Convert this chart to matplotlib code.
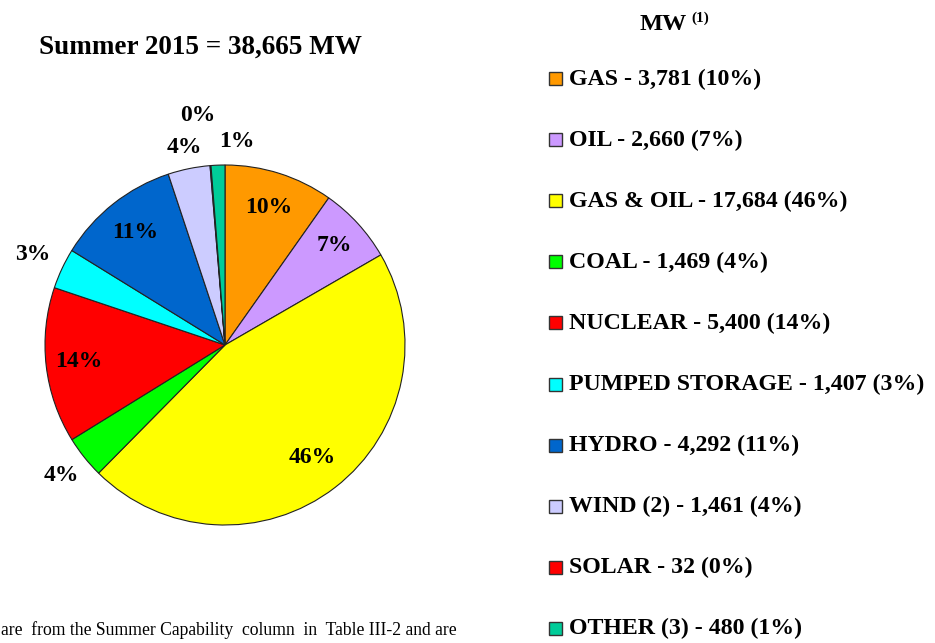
import numpy as np
import matplotlib.pyplot as plt
from matplotlib.patches import Rectangle

plt.rcParams['font.family'] = ['Liberation Serif', 'DejaVu Serif']

fuels = ["GAS", "OIL", "GAS & OIL", "COAL", "NUCLEAR", "PUMPED STORAGE",
         "HYDRO", "WIND (2)", "SOLAR", "OTHER (3)"]
mw = [3781, 2660, 17684, 1469, 5400, 1407, 4292, 1461, 32, 480]
pct = [10, 7, 46, 4, 14, 3, 11, 4, 0, 1]
colors = ["#FF9900", "#CC99FF", "#FFFF00", "#00FF00", "#FF0000", "#00FFFF",
          "#0066CC", "#CCCCFF", "#FF0000", "#00CC99"]
total_mw = 38665

fig = plt.figure(figsize=(9.35, 6.43), dpi=100)
ax = fig.add_axes([225/935 - 180/935, (643-345)/643 - 180/643, 360/935, 360/643])

wedges, _ = ax.pie(mw, colors=colors, startangle=90, counterclock=False,
                   wedgeprops=dict(edgecolor="#222222", linewidth=0.8))
ax.set_xlim(-1, 1)
ax.set_ylim(-1, 1)
ax.set_aspect("equal")
ax.axis("off")

# label radius and point offsets per slice
label_r = [0.8, 0.82, 0.79, 1.16, 0.82, 1.18, 0.8, 1.12, 1.28, 1.13]
label_off = [(0, 0), (0, 0), (0, 0), (0, 0), (0, 0), (0, 0), (0, 0),
             (0, 0), (-6, 0), (14, 0)]
for w, p, r, off in zip(wedges, pct, label_r, label_off):
    ang = np.deg2rad((w.theta1 + w.theta2) / 2)
    ax.annotate(f"{p}%", (r*np.cos(ang), r*np.sin(ang)), xytext=off,
                textcoords="offset points", ha="center", va="center",
                fontsize=17, fontweight="bold", annotation_clip=False)

fig.text(200/935, 1 - 47/643, f"Summer 2015 = {total_mw:,} MW", ha="center",
         va="center", fontsize=19.5, fontweight="bold")

fig.text(663/935, 1 - 24/643, "MW", ha="center", va="center",
         fontsize=17.5, fontweight="bold")
fig.text(691/935, 1 - 18/643, "(1)", ha="left", va="center",
         fontsize=11, fontweight="bold")

y0, dy = 79, 61.1
for i, (f, v, p, c) in enumerate(zip(fuels, mw, pct, colors)):
    y = y0 + i*dy
    fig.add_artist(Rectangle(((549)/935, 1 - (y + 6)/643), 13/935, 13/643,
                             transform=fig.transFigure, facecolor=c,
                             edgecolor="#333333", linewidth=1))
    fig.text(569/935, 1 - y/643, f"{f} - {v:,} ({p}%)", ha="left", va="center",
             fontsize=17.2, fontweight="bold")

fig.text(1/935, 1 - 630/643, "are  from the Summer Capability  column  in  Table III-2 and are",
         ha="left", va="center", fontsize=12.7)

fig.savefig("out.png", dpi=100)
